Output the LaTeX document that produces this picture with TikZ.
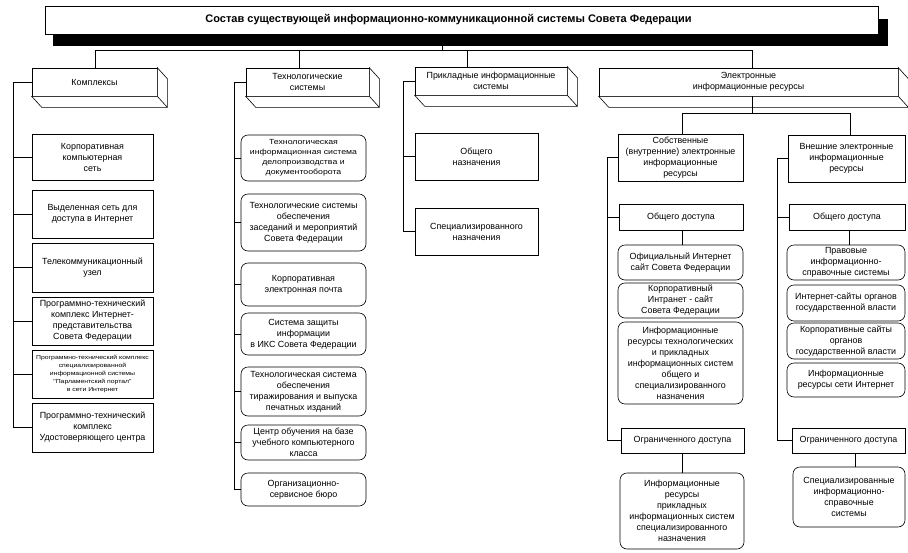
\documentclass[tikz,border=0pt]{standalone}
\usepackage{fontspec}
\setmainfont{Liberation Sans}
\newfontfamily\widefont[FakeStretch=1.18]{Liberation Sans}
\usetikzlibrary{calc}
\newcommand{\threedbox}[1]{%
  \draw[fill=white] (#1.north east) -- ($(#1.north east)+(10,11)$) -- ($(#1.south east)+(10,11)$) -- ($(#1.south west)+(10,11)$) -- (#1.south west) -- (#1.south east) -- cycle;
  \draw (#1.south east) -- ($(#1.south east)+(10,11)$);}
\begin{document}
\begin{tikzpicture}[x=1pt,y=-1pt,line width=0.6pt,
  box/.style={draw, fill=white, align=center, inner sep=1pt, font=\fontsize{8.9}{11}\selectfont},
  rbox/.style={box, rounded corners=7pt},
  hdr/.style={box},
  tiny/.style={font=\widefont\fontsize{5.8}{7.8}\selectfont},
  small/.style={font=\widefont\fontsize{7.4}{10}\selectfont},
  wire/.style={draw, line width=0.6pt}]
\useasboundingbox[fill=white] (0,0) rectangle (908,552);

% title with shadow
\fill[black] (53,34) rectangle (888,46);
\fill[black] (878,19) rectangle (888,46);
\node[box, minimum width=833, minimum height=28] (title) at (461.5,20) {};
\node[font=\fontsize{11}{12}\selectfont\bfseries, inner sep=0pt] (titletext) at (448.5,20) {Состав существующей информационно-коммуникационной системы Совета Федерации};

% headers
\node[hdr, minimum width=125, minimum height=28] (kom) at (94.5,82) {Комплексы};
\node[hdr, minimum width=123, minimum height=28] (tech) at (307.5,82) {Технологические\\системы};
\node[hdr, minimum width=152, minimum height=28] (prik) at (491,81) {Прикладные информационные\\системы};
\node[hdr, minimum width=299, minimum height=28] (el) at (748.5,82) {Электронные\\информационные ресурсы};
\threedbox{kom}
\threedbox{tech}
\threedbox{prik}
\threedbox{el}

% Complexes column
\node[box, minimum width=121, minimum height=46] (k1) at (92.5,157) {Корпоративная\\компьютерная\\сеть};
\node[box, minimum width=121, minimum height=48] (k2) at (92.5,214) {Выделенная сеть для\\доступа в Интернет};
\node[box, minimum width=121, minimum height=49] (k3) at (92.5,267.5) {Телекоммуникационный\\узел};
\node[box, minimum width=121, minimum height=48] (k4) at (92.5,321) {Программно-технический\\комплекс Интернет-\\представительства\\Совета Федерации};
\node[box, tiny, minimum width=121, minimum height=48] (k5) at (92.5,374) {Программно-технический комплекс\\специализированной\\информационной системы\\"Парламентский портал"\\в сети Интернет};
\node[box, minimum width=121, minimum height=49] (k6) at (92.5,427.5) {Программно-технический\\комплекс\\Удостоверяющего центра};

% Technological systems column
\node[rbox, small, minimum width=125, minimum height=46] (t1) at (303.5,158) {Технологическая\\информационная система\\делопроизводства и\\документооборота};
\node[rbox, minimum width=125, minimum height=57] (t2) at (303.5,222.5) {Технологические системы\\обеспечения\\заседаний и мероприятий\\Совета Федерации};
\node[rbox, minimum width=125, minimum height=43] (t3) at (303.5,284.5) {Корпоративная\\электронная почта};
\node[rbox, minimum width=125, minimum height=42] (t4) at (303.5,334) {Система защиты\\информации\\в ИКС Совета Федерации};
\node[rbox, minimum width=125, minimum height=49] (t5) at (303.5,391.5) {Технологическая система\\обеспечения\\тиражирования и выпуска\\печатных изданий};
\node[rbox, minimum width=125, minimum height=35] (t6) at (303.5,442.5) {Центр обучения на базе\\учебного компьютерного\\класса};
\node[rbox, minimum width=125, minimum height=33] (t7) at (303.5,489.5) {Организационно-\\сервисное бюро};

% Applied systems column
\node[box, minimum width=123, minimum height=47] (p1) at (476.5,156.5) {Общего\\назначения};
\node[box, minimum width=123, minimum height=47] (p2) at (476.5,231.5) {Специализированного\\назначения};

% Electronic resources
\node[box, minimum width=125, minimum height=47] (e1) at (680.5,157.5) {Собственные\\(внутренние) электронные\\информационные\\ресурсы};
\node[box, minimum width=117, minimum height=47] (e2) at (846.5,158.5) {Внешние электронные\\информационные\\ресурсы};
\node[box, minimum width=124, minimum height=26] (lo1) at (681,217) {Общего доступа};
\node[box, minimum width=116, minimum height=26] (ro1) at (847,217) {Общего доступа};

\node[rbox, minimum width=125, minimum height=35] (la) at (680.5,262.5) {Официальный Интернет\\сайт Совета Федерации};
\node[rbox, minimum width=125, minimum height=35] (lb) at (680.5,300.5) {Корпоративный\\Интранет - сайт\\Совета Федерации};
\node[rbox, minimum width=125, minimum height=82] (lc) at (680.5,363) {Информационные\\ресурсы технологических\\и прикладных\\информационных систем\\общего и\\специализированного\\назначения};

\node[rbox, minimum width=118, minimum height=35] (ra) at (846,262.5) {Правовые\\информационно-\\справочные системы};
\node[rbox, minimum width=118, minimum height=36] (rb) at (846,303) {Интернет-сайты органов\\государственной власти};
\node[rbox, minimum width=118, minimum height=36] (rc) at (846,341) {Корпоративные сайты\\органов\\государственной власти};
\node[rbox, minimum width=118, minimum height=34] (rd) at (846,380) {Информационные\\ресурсы сети Интернет};

\node[box, minimum width=123, minimum height=25] (lo2) at (682.5,440.5) {Ограниченного доступа};
\node[box, minimum width=113, minimum height=25] (ro2) at (848.5,440.5) {Ограниченного доступа};
\node[rbox, minimum width=124, minimum height=76] (ll) at (682,511) {Информационные\\ресурсы\\прикладных\\информационных систем\\специализированного\\назначения};
\node[rbox, minimum width=112, minimum height=60] (rl) at (849,497) {Специализированные\\информационно-\\справочные\\системы};

% ---- connectors ----
\coordinate (tb) at (442,46);
\coordinate (tbus) at (442,50);
\coordinate (jk) at (95,50);
\coordinate (jt) at (299,50);
\coordinate (jp) at (467,50);
\coordinate (je) at (752,50);
\draw[wire] (tb) -- (tbus);
\draw[wire] (jk) -- (je);
\draw[wire] (jk) -- (jk |- kom.north);
\draw[wire] (jt) -- (jt |- tech.north);
\draw[wire] (jp) -- (jp |- prik.north);
\draw[wire] (je) -- (je |- el.north);

% complexes side bus
\coordinate (ks) at (13,0);
\draw[wire] (kom.west) -- (kom.west -| ks) -- (ks |- k6.west) -- (k6.west);
\foreach \n in {k1,k2,k3,k4,k5} \draw[wire] (ks |- \n.west) -- (\n.west);

% tech side bus
\coordinate (ts) at (234,0);
\draw[wire] (tech.west) -- (tech.west -| ts) -- (ts |- t7.west) -- (t7.west);
\foreach \n in {t1,t2,t3,t4,t5,t6} \draw[wire] (ts |- \n.west) -- (\n.west);

% applied side bus
\coordinate (ps) at (403,0);
\draw[wire] (prik.west) -- (prik.west -| ps) -- (ps |- p2.west) -- (p2.west);
\draw[wire] (ps |- p1.west) -- (p1.west);

% electronic resources branch
\coordinate (eb) at (752,113);
\coordinate (ebl) at (682,113);
\coordinate (ebr) at (850,113);
\draw[wire] (eb |- el.south) -- (eb);
\draw[wire] (ebl) -- (ebr);
\draw[wire] (ebl) -- (ebl |- e1.north);
\draw[wire] (ebr) -- (ebr |- e2.north);

\coordinate (ls) at (607,0);
\draw[wire] (e1.west) -- (e1.west -| ls) -- (ls |- lo2.west) -- (lo2.west);
\draw[wire] (ls |- lo1.west) -- (lo1.west);
\coordinate (rs) at (777,0);
\draw[wire] (e2.west) -- (e2.west -| rs) -- (rs |- ro2.west) -- (ro2.west);
\draw[wire] (rs |- ro1.west) -- (ro1.west);

\coordinate (lv) at (682,0);
\coordinate (rv) at (849,0);
\coordinate (lv2) at (682,0);
\coordinate (rv2) at (855,0);
\draw[wire] (lv |- lo1.south) -- (lv |- la.north);
\draw[wire] (rv |- ro1.south) -- (rv |- ra.north);
\draw[wire] (lv2 |- lo2.south) -- (lv2 |- ll.north);
\draw[wire] (rv2 |- ro2.south) -- (rv2 |- rl.north);
\end{tikzpicture}
\end{document}
